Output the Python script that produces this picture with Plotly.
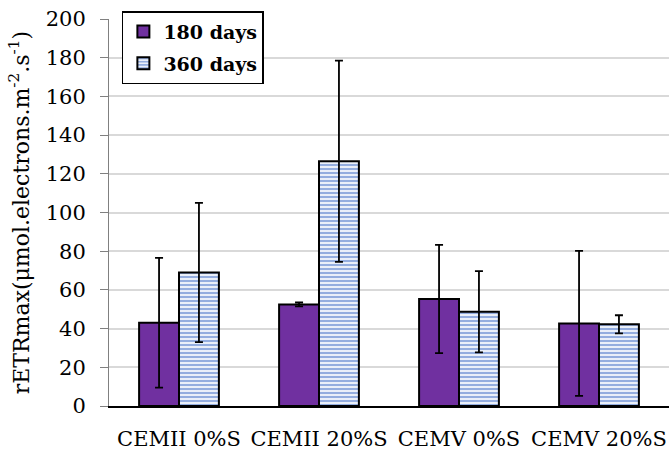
import plotly.graph_objects as go

categories = ["CEMII 0%S", "CEMII 20%S", "CEMV 0%S", "CEMV 20%S"]
series_names = ["180 days", "360 days"]
values_180 = [43.0, 52.5, 55.3, 42.7]
errors_180 = [33.5, 1.0, 28.0, 37.5]
values_360 = [69.0, 126.5, 48.7, 42.2]
errors_360 = [36.0, 52.0, 21.0, 4.7]
y_ticks = [0, 20, 40, 60, 80, 100, 120, 140, 160, 180, 200]

FONT = "DejaVu Serif"

fig = go.Figure()
fig.add_trace(go.Bar(
    name=series_names[0], x=categories, y=values_180, legendgroup="a",
    marker=dict(color="#7030A0", line=dict(color="black", width=2)),
    error_y=dict(type="data", array=errors_180, color="black", thickness=1.8, width=4),
))
fig.add_trace(go.Bar(
    name=series_names[1], x=categories, y=values_360, legendgroup="b",
    marker=dict(color="white", line=dict(color="black", width=2),
                pattern=dict(shape="-", fgcolor="#2A5CC0", bgcolor="white", size=4, solidity=0.6)),
    error_y=dict(type="data", array=errors_360, color="black", thickness=1.8, width=4),
))

fig.update_layout(
    width=669, height=455,
    margin=dict(l=109, r=0, t=19, b=49),
    paper_bgcolor="white", plot_bgcolor="white",
    barmode="group", bargap=0.43, bargroupgap=0,
    font=dict(family=FONT, size=20, color="black"),
    showlegend=True,
    legend=dict(x=0.023, y=1.02, xanchor="left", yanchor="top",
                bordercolor="black", borderwidth=1.5, bgcolor="white",
                font=dict(family=FONT, size=19, color="black", weight="bold"),
                itemsizing="constant", tracegroupgap=4, itemwidth=30),
    xaxis=dict(showgrid=False, showline=True, linecolor="black", linewidth=1.5,
               ticks="outside", ticklen=13, tickcolor="rgba(0,0,0,0)",
               tickfont=dict(family=FONT, size=21), automargin=False),
    yaxis=dict(range=[0, 200], tickvals=y_ticks, showgrid=True, gridcolor="#d9d9d9", gridwidth=1.5,
               showline=True, linecolor="#808080", linewidth=1, ticks="outside", ticklen=8,
               tickcolor="#808080", tickfont=dict(family=FONT, size=21), zeroline=False,
               ticklabelstandoff=10, automargin=False,
               title=dict(text="rETRmax(μmol.electrons.m<sup>-2</sup>.s<sup>-1</sup>)",
                          font=dict(family=FONT, size=22), standoff=10)),
)

fig.write_html("out.html", config={"displayModeBar": False},
               post_script="document.body.style.margin='0';document.body.style.padding='0';")
